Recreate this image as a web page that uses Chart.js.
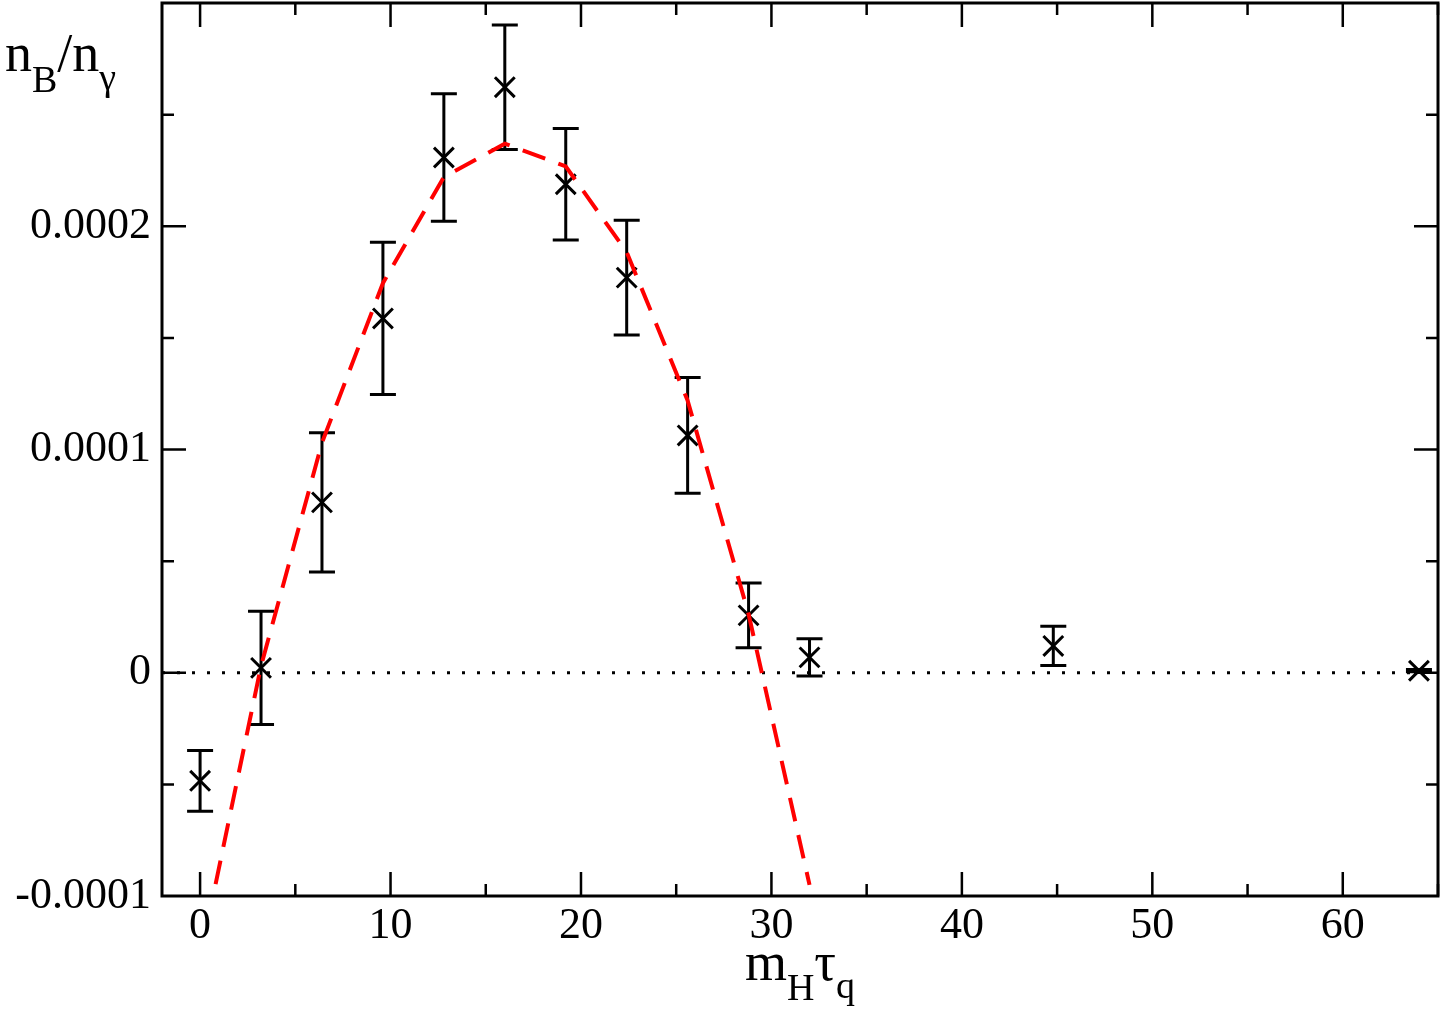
<!DOCTYPE html>
<html>
<head>
<meta charset="utf-8">
<script src="https://cdn.jsdelivr.net/npm/chart.js@4/dist/chart.umd.min.js"></script>
<style>
  html, body { margin: 0; padding: 0; background: #fff; }
  #wrap { width: 1442px; height: 1013px; }
</style>
</head>
<body>
<div id="wrap"><canvas id="chart"></canvas></div>
<script>
// m_H tau_q of each run
const tauQ = [0, 3.2, 6.4, 9.6, 12.8, 16, 19.2, 22.4, 25.6, 28.8, 32, 44.8, 64];
// n_B/n_gamma and its error
const asym = [-0.484e-4, 0.022e-4, 0.763e-4, 1.587e-4, 2.308e-4, 2.623e-4, 2.188e-4, 1.77e-4, 1.063e-4, 0.257e-4, 0.069e-4, 0.12e-4, 0.009e-4];
const asymErr = [0.136e-4, 0.254e-4, 0.312e-4, 0.341e-4, 0.286e-4, 0.279e-4, 0.25e-4, 0.257e-4, 0.259e-4, 0.145e-4, 0.083e-4, 0.088e-4, 0.005e-4];
// dashed red fit
const fitX = [0, 3.2, 6.4, 9.6, 12.8, 16, 19.2, 22.4, 25.6, 28.8, 32];
const fitY = [-1.28e-4, 0.03e-4, 1.03e-4, 1.745e-4, 2.22e-4, 2.37e-4, 2.268e-4, 1.884e-4, 1.219e-4, 0.263e-4, -0.95e-4];
// tick labels
const xTickVals = [0, 10, 20, 30, 40, 50, 60];
const yTickVals = [-0.0001, 0, 0.0001, 0.0002];
const yTickLabels = ['-0.0001', '0', '0.0001', '0.0002'];

const serif = '"Liberation Serif", "DejaVu Serif", serif';

function piece(ctx, s, x, y, font) {
    ctx.font = font;
    ctx.fillText(s, x, y);
    return x + ctx.measureText(s).width;
}

// vertical error bars with caps, under the markers
const errorBars = {
    id: 'errorBars',
    beforeDatasetsDraw(chart) {
        const {ctx, scales: {x, y}} = chart;
        ctx.save();
        ctx.strokeStyle = '#000';
        ctx.lineWidth = 3;
        tauQ.forEach((t, i) => {
            const px = x.getPixelForValue(t);
            const top = y.getPixelForValue(asym[i] + asymErr[i]);
            const bot = y.getPixelForValue(asym[i] - asymErr[i]);
            ctx.beginPath();
            ctx.moveTo(px, top); ctx.lineTo(px, bot);
            ctx.moveTo(px - 13, top); ctx.lineTo(px + 13, top);
            ctx.moveTo(px - 13, bot); ctx.lineTo(px + 13, bot);
            ctx.stroke();
        });
        ctx.restore();
    }
};

// box frame with inward ticks on all four sides
const frameTicks = {
    id: 'frameTicks',
    afterDraw(chart) {
        const {ctx, chartArea: a, scales: {x, y}} = chart;
        ctx.save();
        ctx.strokeStyle = '#000';
        ctx.lineWidth = 2.5;
        ctx.beginPath();
        for (let v = 0; v <= x.max; v += 5) {
            const px = x.getPixelForValue(v);
            const len = v % 10 === 0 ? 24 : 12;
            ctx.moveTo(px, a.bottom); ctx.lineTo(px, a.bottom - len);
            ctx.moveTo(px, a.top); ctx.lineTo(px, a.top + len);
        }
        for (let k = -2; k <= 6; k++) {
            const v = k * 0.00005;
            if (v <= y.min || v >= y.max) continue;
            const py = y.getPixelForValue(v);
            const len = k % 2 === 0 ? 24 : 12;
            ctx.moveTo(a.left, py); ctx.lineTo(a.left + len, py);
            ctx.moveTo(a.right, py); ctx.lineTo(a.right - len, py);
        }
        ctx.stroke();
        ctx.lineWidth = 3;
        ctx.strokeRect(a.left, a.top, a.width, a.height);
        ctx.restore();
    }
};

// axis titles with subscripts
const axisTitles = {
    id: 'axisTitles',
    afterDraw(chart) {
        const {ctx, chartArea: a} = chart;
        const big = '54px ' + serif;
        const small = '38px ' + serif;
        ctx.save();
        ctx.fillStyle = '#000';
        ctx.textBaseline = 'alphabetic';

        let cx = 5;
        cx = piece(ctx, 'n', cx, 71, big);
        cx = piece(ctx, 'B', cx, 92, small);
        cx = piece(ctx, '/', cx, 71, big);
        cx = piece(ctx, 'n', cx, 71, big);
        piece(ctx, 'γ', cx, 90, small);

        ctx.font = big;
        let w = ctx.measureText('m').width + ctx.measureText('τ').width;
        ctx.font = small;
        w += ctx.measureText('H').width + ctx.measureText('q').width;
        cx = (a.left + a.right) / 2 - w / 2;
        cx = piece(ctx, 'm', cx, 980, big);
        cx = piece(ctx, 'H', cx, 1000, small);
        cx = piece(ctx, 'τ', cx, 980, big);
        piece(ctx, 'q', cx, 998, small);
        ctx.restore();
    }
};

new Chart(document.getElementById('chart'), {
    type: 'line',
    data: {
        datasets: [{
            label: 'fit',
            data: fitX.map((v, i) => ({x: v, y: fitY[i]})),
            borderColor: 'rgb(255, 0, 0)',
            borderWidth: 4,
            borderDash: [24, 14],
            pointRadius: 0,
            fill: false,
            tension: 0
        }, {
            label: 'data',
            data: tauQ.map((v, i) => ({x: v, y: asym[i]})),
            showLine: false,
            pointStyle: 'crossRot',
            pointRadius: 14,
            borderColor: '#000',
            backgroundColor: '#000',
            borderWidth: 3
        }, {
            label: 'zero',
            data: [{x: -2, y: 0}, {x: 65, y: 0}],
            borderColor: '#000',
            borderWidth: 3,
            borderDash: [3, 12],
            pointRadius: 0,
            fill: false
        }]
    },

    options: {
        responsive: true,
        maintainAspectRatio: false,
        animation: false,
        events: [],
        layout: {
            autoPadding: false,
            padding: {left: 0, right: 4, top: 3, bottom: 0}
        },
        plugins: {
            legend: {display: false},
            tooltip: {enabled: false}
        },
        scales: {
            x: {
                type: 'linear',
                min: -2,
                max: 65,
                grid: {display: false, drawTicks: false},
                border: {display: false},
                afterBuildTicks: s => { s.ticks = xTickVals.map(v => ({value: v})); },
                afterFit: s => {
                    s.height = 117;
                    s.paddingLeft = 0;
                    s.paddingRight = 0;
                },
                ticks: {
                    font: {family: serif, size: 44},
                    color: '#000',
                    padding: 4,
                    maxRotation: 0,
                    autoSkip: false
                }
            },
            y: {
                type: 'linear',
                min: -0.0001,
                max: 0.0003,
                grid: {display: false, drawTicks: false},
                border: {display: false},
                afterBuildTicks: s => { s.ticks = yTickVals.map(v => ({value: v})); },
                afterFit: s => {
                    s.width = 162;
                    s.paddingTop = 0;
                    s.paddingBottom = 0;
                },
                ticks: {
                    font: {family: serif, size: 44},
                    color: '#000',
                    padding: 11,
                    autoSkip: false,
                    callback: (v, i) => yTickLabels[i]
                }
            }
        }
    },
    plugins: [errorBars, frameTicks, axisTitles]
});
</script>
</body>
</html>
